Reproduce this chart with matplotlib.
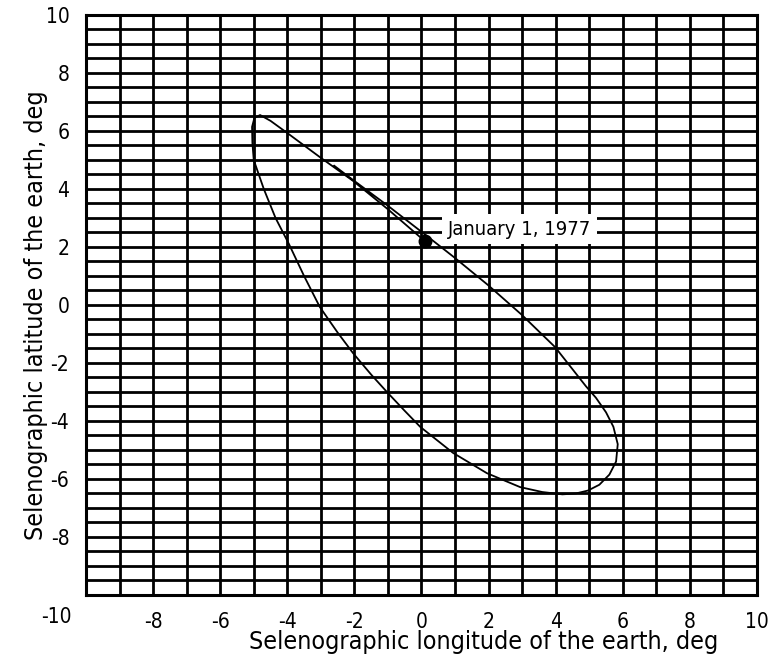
import matplotlib
matplotlib.use("Agg")
import matplotlib.pyplot as plt
from matplotlib.ticker import MultipleLocator

plt.rcParams['font.family'] = ['DejaVu Sans']
plt.rcParams['font.stretch'] = 'condensed'
plt.rcParams['axes.unicode_minus'] = False

# libration path of the earth as seen from the moon (deg), starting Jan 1 1977
lon = [0.1, -1.0, -2.04, -3.03, -4.0, -4.5, -4.81, -4.98, -5.05, -5.04, -5.0,
       -4.7, -4.35, -3.95, -3.5, -3.03, -2.5, -2.04, -1.5, -1.03, -0.5, -0.04,
       0.94, 1.95, 2.94, 3.6, 4.2, 4.6, 4.96, 5.3, 5.6, 5.8, 5.85, 5.72, 5.5, 5.2,
       4.9, 3.98, 2.99, 1.98, 1.0, 0.25, -1.0, -2.04, -2.6]
lat = [2.2, 3.3, 4.28, 5.1, 5.93, 6.35, 6.55, 6.45, 6.14, 5.6, 5.0,
       4.0, 3.0, 2.1, 1.0, -0.07, -0.95, -1.66, -2.4, -3.0, -3.65, -4.2,
       -5.1, -5.8, -6.28, -6.45, -6.53, -6.5, -6.4, -6.2, -5.85, -5.4, -4.8, -4.2, -3.7, -3.2,
       -2.8, -1.45, -0.34, 0.69, 1.62, 2.3, 3.42, 4.31, 4.8]

start_lon, start_lat = 0.1, 2.2
start_label = "January 1, 1977"

xticks = [-8, -6, -4, -2, 0, 2, 4, 6, 8, 10]
yticks = [-8, -6, -4, -2, 0, 2, 4, 6, 8, 10]

fig = plt.figure(figsize=(7.74, 6.63), dpi=100)
ax = fig.add_axes([0.1111, 0.1026, 0.8669, 0.8748])

ax.set_xlim(-10, 10)
ax.set_ylim(-10, 10)
ax.set_xticks(xticks)
ax.set_yticks(yticks)
ax.xaxis.set_minor_locator(MultipleLocator(1))
ax.yaxis.set_minor_locator(MultipleLocator(0.5))
ax.grid(which='both', color='black', linewidth=2.0)
ax.set_axisbelow(True)
ax.tick_params(which='both', length=0, labelsize=15)
ax.tick_params(axis='x', pad=12)
ax.tick_params(axis='y', pad=12)
for s in ax.spines.values():
    s.set_linewidth(2.2)

ax.plot(lon, lat, color='black', linewidth=1.3, zorder=3)
ax.plot([start_lon], [start_lat], 'o', color='black', markersize=9, zorder=4)
ax.text(0.79, 2.62, start_label, fontsize=14.5, ha='left', va='center', zorder=5,
        bbox=dict(facecolor='white', edgecolor='none', pad=4))

ax.annotate("-10", xy=(0, 0), xycoords='axes fraction', xytext=(-14, -22),
            textcoords='offset pixels', ha='right', va='center', fontsize=15)

ax.set_xlabel("Selenographic longitude of the earth, deg", fontsize=18)
ax.set_ylabel("Selenographic latitude of the earth, deg", fontsize=18)
ax.xaxis.set_label_coords(0.593, -0.061)
ax.yaxis.set_label_coords(-0.056, 0.483)

fig.savefig("out.png", dpi=100)
